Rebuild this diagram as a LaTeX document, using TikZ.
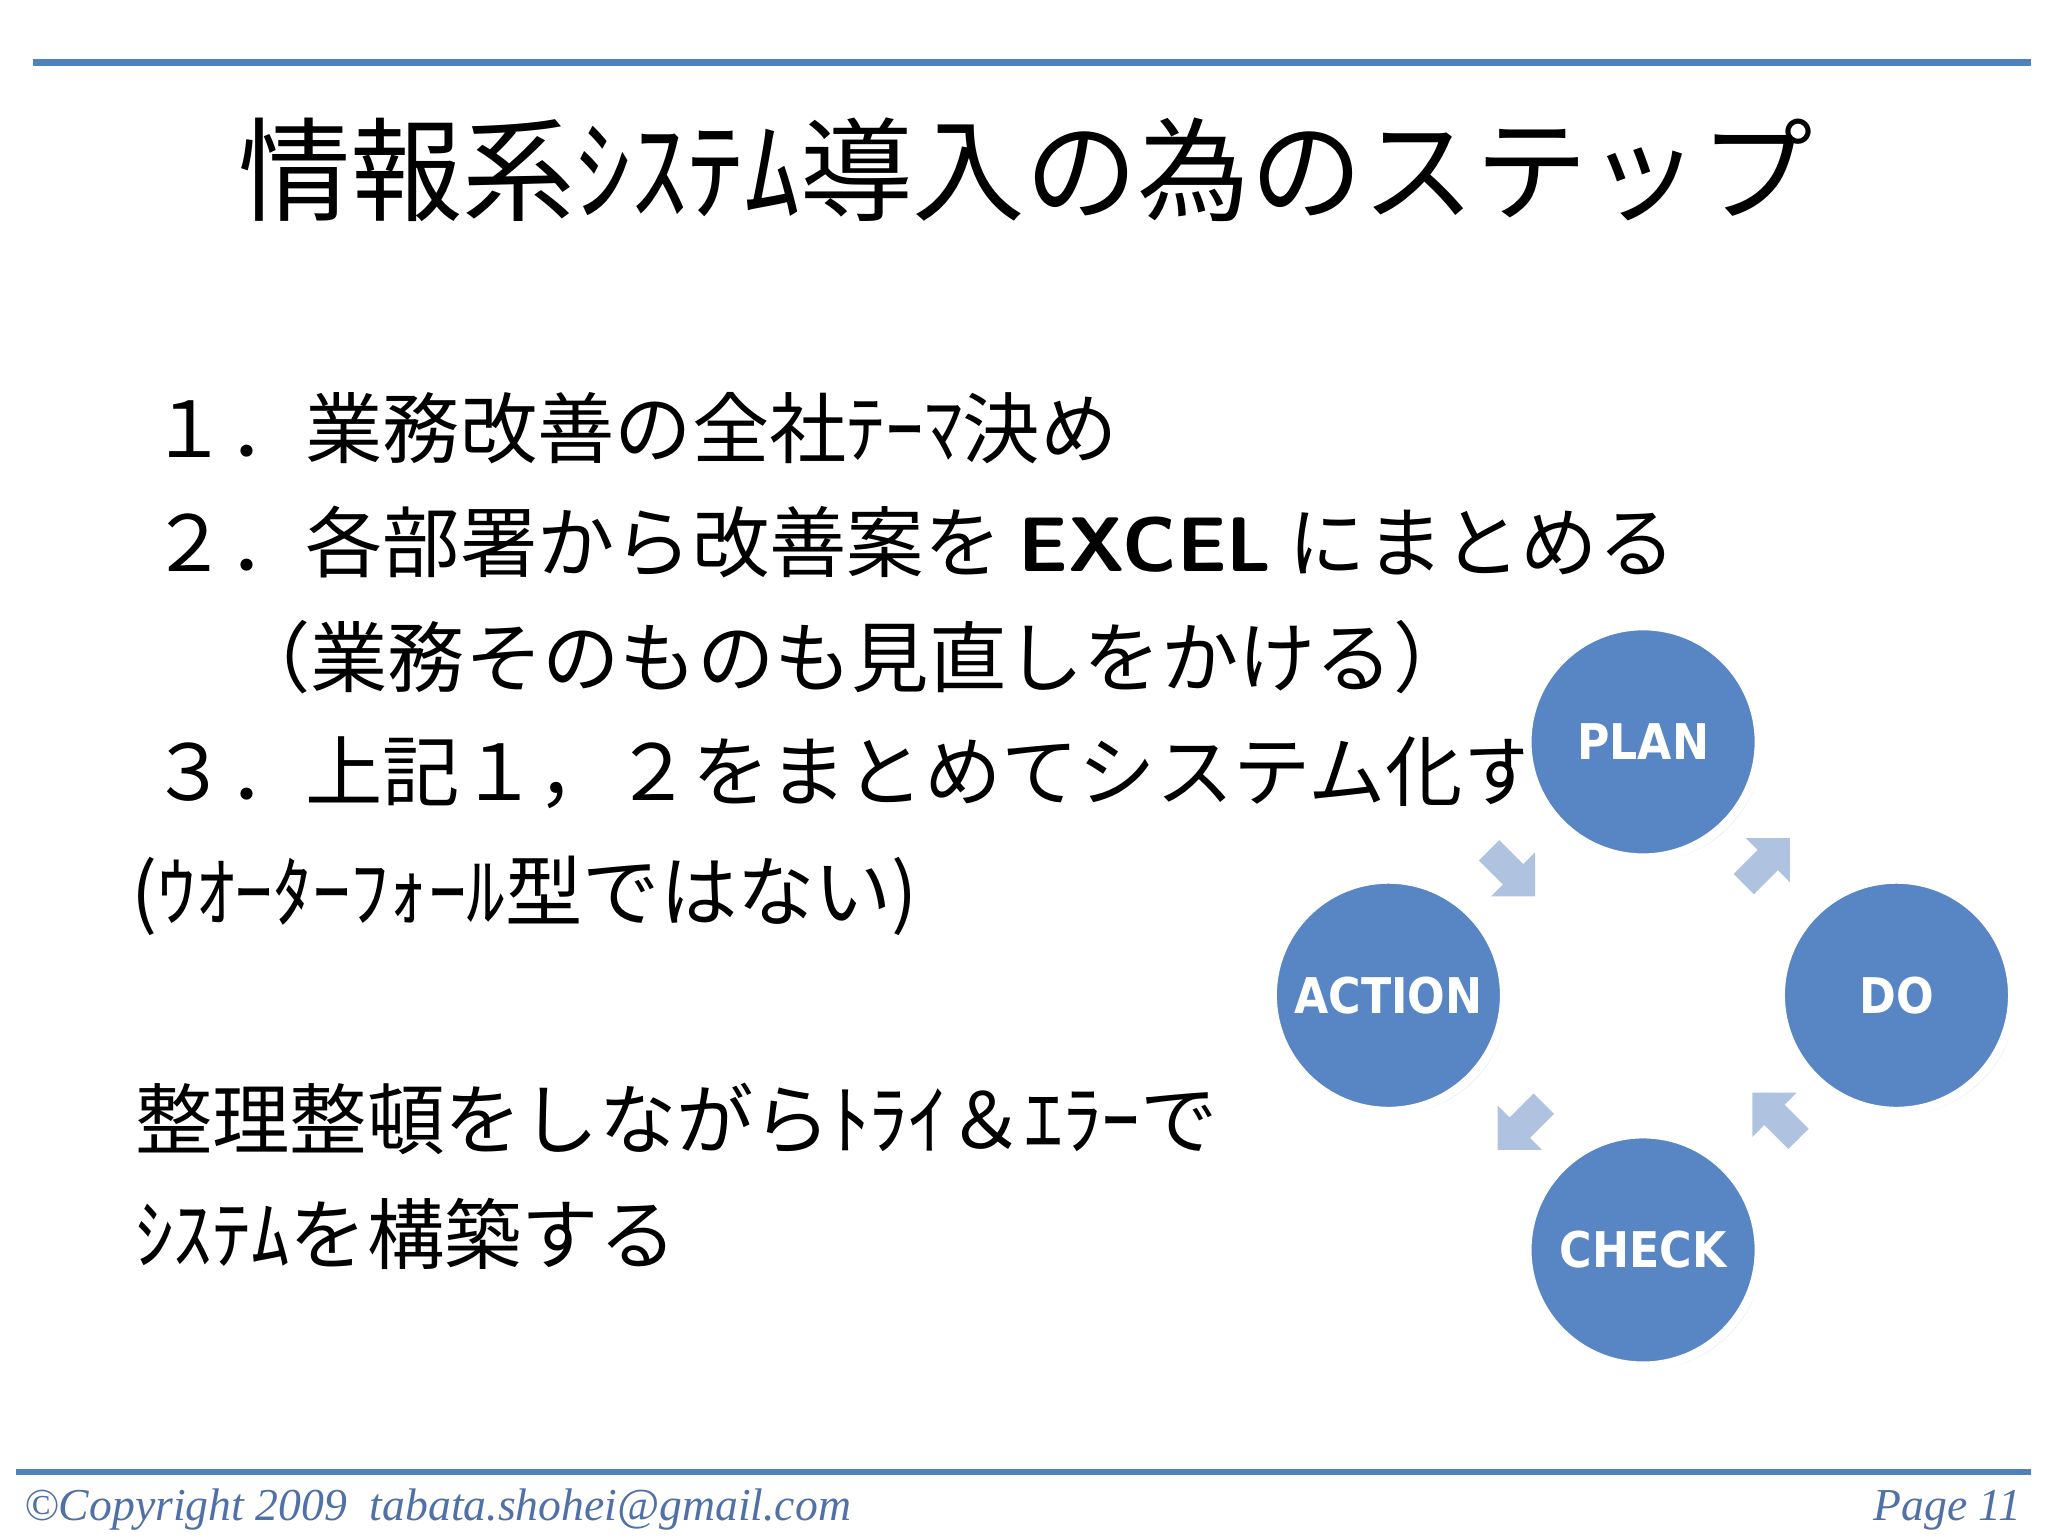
\documentclass[tikz,border=0pt]{standalone}
\usepackage{fontspec}
\newfontfamily\jp{Noto Sans CJK JP}
\newfontfamily\ft{Liberation Serif}
\newfontfamily\cf{DejaVu Sans Condensed}
\usetikzlibrary{shadows}
\definecolor{bl}{HTML}{4F81BD}
\definecolor{cfill}{HTML}{5886C4}
\definecolor{af}{HTML}{AFC3E0}
\definecolor{fc}{HTML}{5070A8}
\tikzset{
 body/.style={anchor=west,font=\jp\fontsize{22}{26}\selectfont,inner sep=0},
 cyc/.style={circle,minimum size=178*0.3706pt,fill=cfill,draw=white,line width=2.5pt,text=white,font=\cf\bfseries\fontsize{14}{18}\selectfont,drop shadow={opacity=0.2,shadow xshift=1pt,shadow yshift=-1pt}}
}
\newcommand{\barrow}[2]{\begin{scope}[shift={#1},rotate=#2]
 \fill[af] (-24,-11) -- (2,-11) -- (2,-24) -- (26,0) -- (2,24) -- (2,11) -- (-24,11) -- cycle;
\end{scope}}
\begin{document}
\begin{tikzpicture}[x=0.01306cm,y=-0.01306cm]
\useasboundingbox (0,0) rectangle (1568,1176);
\draw[bl,line width=2pt] (25,48) coordinate(t1) -- (1555,48) coordinate(t2);
\node[font=\jp\fontsize{32}{36}\selectfont] (title) at (785,130) {情報系ｼｽﾃﾑ導入の為のステップ};
\node[body] (l1) at (115,328) {１．業務改善の全社ﾃｰﾏ決め};
\node[body] (l2) at (115,415) {２．各部署から改善案を \textbf{\sffamily EXCEL} にまとめる};
\node[body] (l3) at (178,503) {（業務そのものも見直しをかける）};
\node[body] (l4) at (115,592) {３．上記１，２をまとめてシステム化する};
\node[body] (l5) at (100,686) {(ｳｵｰﾀｰﾌｫｰﾙ型ではない)};
\node[body] (l6) at (103,857) {整理整頓をしながらﾄﾗｲ＆ｴﾗｰで};
\node[body] (l7) at (103,945) {ｼｽﾃﾑを構築する};
\node[cyc] (plan) at (1258,568) {PLAN};
\node[cyc] (do) at (1452,762) {DO};
\node[cyc] (check) at (1258,957) {CHECK};
\node[cyc] (action) at (1063,762) {ACTION};
\barrow{(1352,660)}{45}
\barrow{(1360,855)}{135}
\barrow{(1165,862)}{-135}
\barrow{(1157,668)}{-45}
\draw[bl,line width=1.6pt] (12,1127) coordinate(b1) -- (1555,1127) coordinate(b2);
\node[anchor=west,text=fc,font=\ft\itshape\fontsize{13}{16}\selectfont,inner sep=0] (c) at (18,1156) {©Copyright 2009\ \ tabata.shohei@gmail.com};
\node[anchor=east,text=fc,font=\ft\itshape\fontsize{13}{16}\selectfont,inner sep=0] (p) at (1548,1156) {Page 11};
\end{tikzpicture}
\end{document}
